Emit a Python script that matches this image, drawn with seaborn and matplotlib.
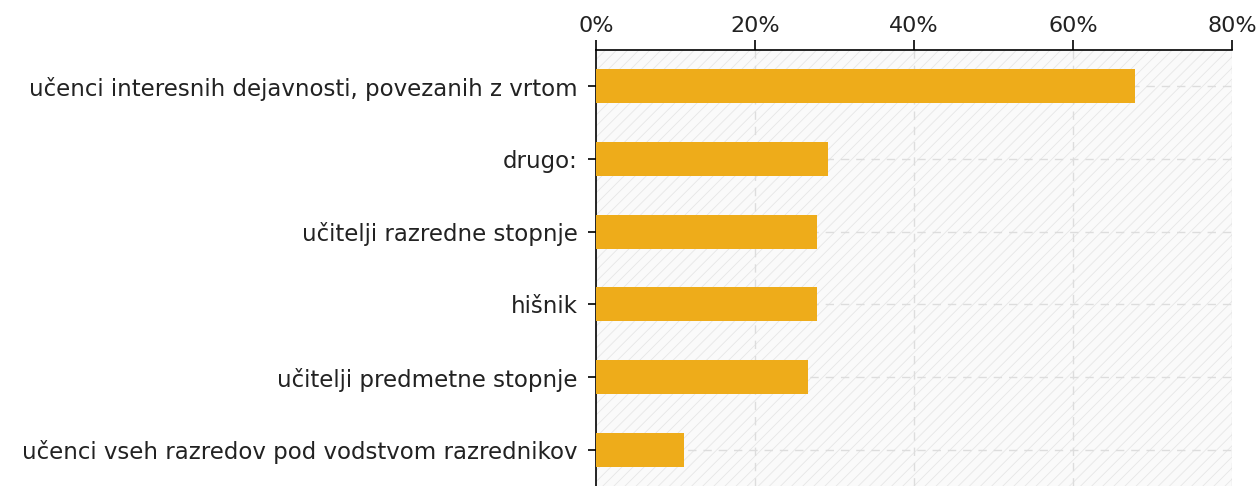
import matplotlib
matplotlib.use("Agg")
import matplotlib.pyplot as plt
from matplotlib.patches import Rectangle
from matplotlib.ticker import PercentFormatter
import pandas as pd
import seaborn as sns

# podatki
kategorije = [
    "učenci interesnih dejavnosti, povezanih z vrtom",
    "drugo:",
    "učitelji razredne stopnje",
    "hišnik",
    "učitelji predmetne stopnje",
    "učenci vseh razredov pod vodstvom razrednikov",
]
delezi = [67.8, 29.2, 27.8, 27.8, 26.7, 11.1]
x_ticki = [0, 20, 40, 60, 80]

df = pd.DataFrame({"kategorija": kategorije, "delez": delezi})

sns.set_theme(style="white")
plt.rcParams["font.family"] = ["DejaVu Sans"]
plt.rcParams["hatch.linewidth"] = 0.6

fig = plt.figure(figsize=(12.58, 4.86), dpi=100)
ax = fig.add_axes([596 / 1258, 0.0, (1232 - 596) / 1258, (486 - 50) / 486])

# crtkano ozadje
ozadje = Rectangle((0, 0), 1, 1, transform=ax.transAxes, facecolor="#fafafa",
                   edgecolor="#e6e6e6", hatch="///", linewidth=0, zorder=0)
ax.add_patch(ozadje)

sns.barplot(data=df, x="delez", y="kategorija", color="#EEAC1A", saturation=1,
            width=0.47, linewidth=0, ax=ax, zorder=3)

ax.set_xlim(0, 80)
ax.set_ylim(5.5, -0.5)
ax.set_xticks(x_ticki)
ax.xaxis.set_major_formatter(PercentFormatter(decimals=0))
ax.xaxis.tick_top()
ax.set_xlabel("")
ax.set_ylabel("")

for x in x_ticki[1:]:
    ax.axvline(x, color="#dddddd", linestyle=(0, (6, 5)), linewidth=1, zorder=1)
for y in range(len(kategorije)):
    ax.axhline(y, color="#dddddd", linestyle=(0, (6, 5)), linewidth=1, zorder=1)

for s in ["bottom", "right"]:
    ax.spines[s].set_visible(False)
for s in ["top", "left"]:
    ax.spines[s].set_color("black")
    ax.spines[s].set_linewidth(1.2)

ax.tick_params(axis="x", top=True, direction="out", length=7, width=1.2,
               color="black", labelsize=16, pad=3, labelcolor="#222222")
ax.tick_params(axis="y", left=True, direction="out", length=6, width=1.2,
               color="black", labelsize=16.5, pad=7, labelcolor="#222222")

fig.savefig("out.png", dpi=100)
